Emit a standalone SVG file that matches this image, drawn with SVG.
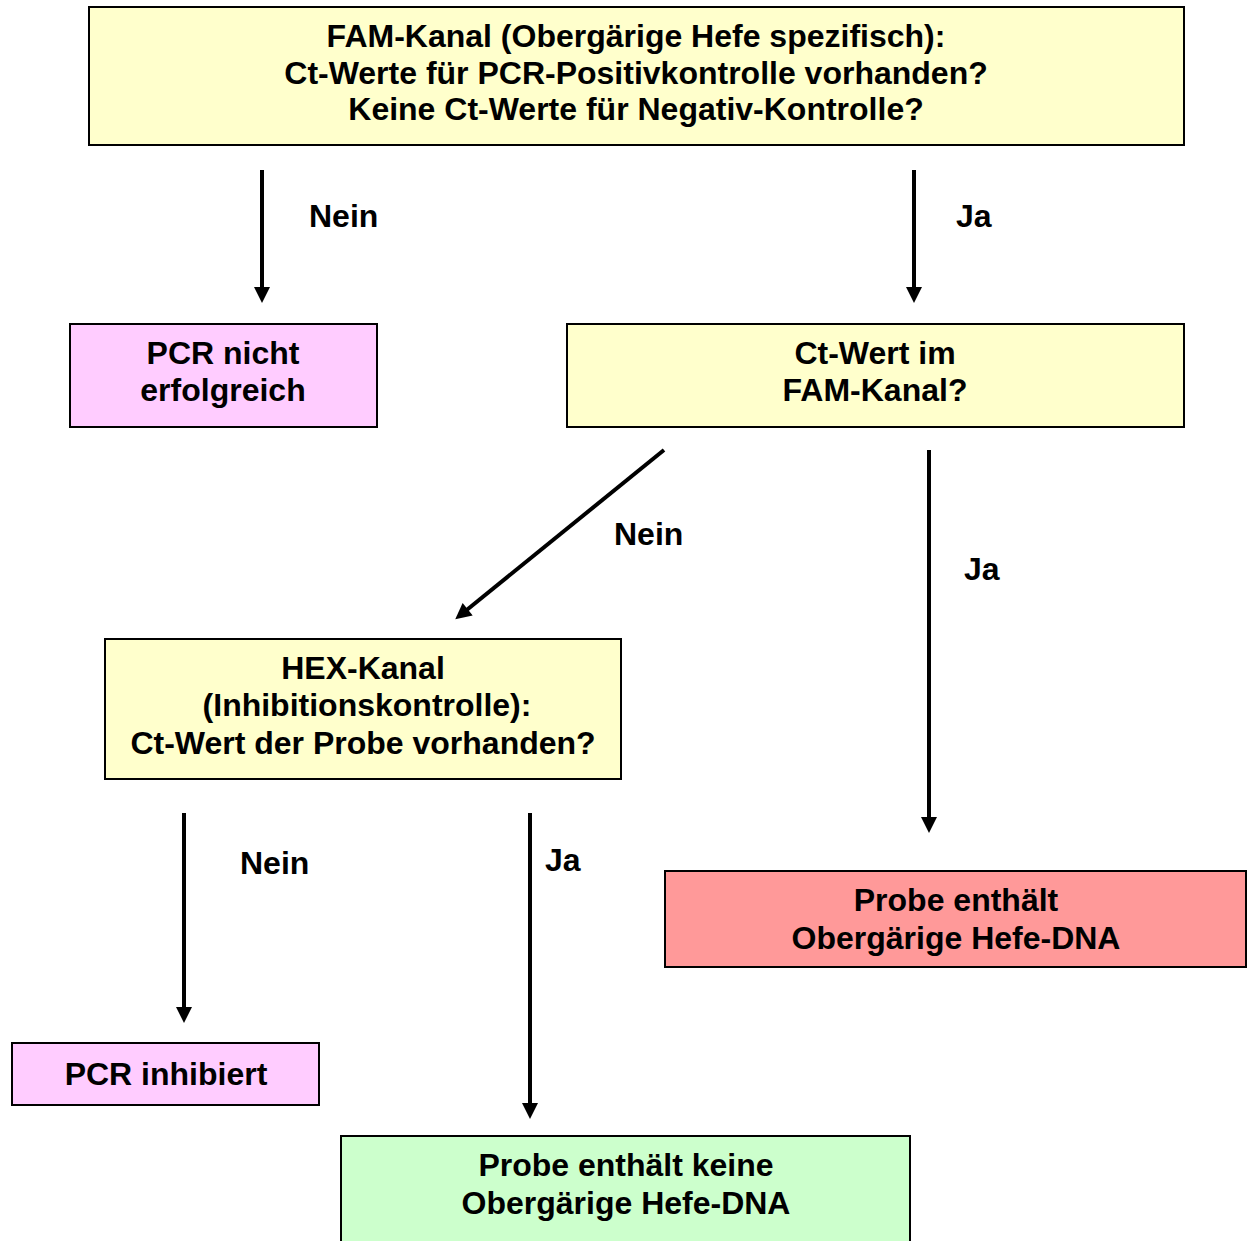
<svg xmlns="http://www.w3.org/2000/svg" width="1247" height="1241" viewBox="0 0 1247 1241">
<style>
.box{stroke:#000;stroke-width:2}
.y{fill:#FFFFCC}.p{fill:#FFCCFF}.r{fill:#FF9999}.g{fill:#CCFFCC}
text{font-family:"Liberation Sans",Arial,sans-serif;font-weight:bold;font-size:32px;fill:#000}
.c{text-anchor:middle}
.ln{stroke:#000;stroke-width:4;fill:none;marker-end:url(#ah)}
</style>
<defs>
<marker id="ah" markerWidth="5" markerHeight="5" refX="1.5" refY="2" orient="auto" markerUnits="strokeWidth" viewBox="0 0 5 4" overflow="visible">
<path d="M0,0 L4,2 L0,4 Z" fill="#000"/>
</marker>
</defs>
<rect width="1247" height="1241" fill="#fff"/>
<g id="n1"><rect class="box y" x="89" y="7" width="1095" height="138"/>
<text class="c" x="636" y="47">FAM-Kanal (Obergärige Hefe spezifisch):</text>
<text class="c" x="636" y="84">Ct-Werte für PCR-Positivkontrolle vorhanden?</text>
<text class="c" x="636" y="120">Keine Ct-Werte für Negativ-Kontrolle?</text></g>
<g id="n2"><rect class="box p" x="70" y="324" width="307" height="103"/>
<text class="c" x="223" y="364">PCR nicht</text>
<text class="c" x="223" y="401">erfolgreich</text></g>
<g id="n3"><rect class="box y" x="567" y="324" width="617" height="103"/>
<text class="c" x="875" y="364">Ct-Wert im</text>
<text class="c" x="875" y="401">FAM-Kanal?</text></g>
<g id="n4"><rect class="box y" x="105" y="639" width="516" height="140"/>
<text class="c" x="363" y="679">HEX-Kanal</text>
<text class="c" x="367" y="716">(Inhibitionskontrolle):</text>
<text class="c" x="363" y="754">Ct-Wert der Probe vorhanden?</text></g>
<g id="n5"><rect class="box r" x="665" y="871" width="581" height="96"/>
<text class="c" x="956" y="911">Probe enthält</text>
<text class="c" x="956" y="949">Obergärige Hefe-DNA</text></g>
<g id="n6"><rect class="box p" x="12" y="1043" width="307" height="62"/>
<text class="c" x="166" y="1085">PCR inhibiert</text></g>
<g id="n7"><rect class="box g" x="341" y="1136" width="569" height="110"/>
<text class="c" x="626" y="1176">Probe enthält keine</text>
<text class="c" x="626" y="1214">Obergärige Hefe-DNA</text></g>
<g id="connectors">
<line class="ln" x1="262" y1="170" x2="262" y2="293"/>
<line class="ln" x1="914" y1="170" x2="914" y2="293"/>
<line class="ln" x1="664" y1="450" x2="463" y2="613"/>
<line class="ln" x1="929" y1="450" x2="929" y2="823"/>
<line class="ln" x1="184" y1="813" x2="184" y2="1013"/>
<line class="ln" x1="530" y1="813" x2="530" y2="1109"/>
<text x="309" y="227">Nein</text>
<text x="956" y="227">Ja</text>
<text x="614" y="545">Nein</text>
<text x="964" y="580">Ja</text>
<text x="240" y="874">Nein</text>
<text x="545" y="871">Ja</text>
</g>
</svg>
